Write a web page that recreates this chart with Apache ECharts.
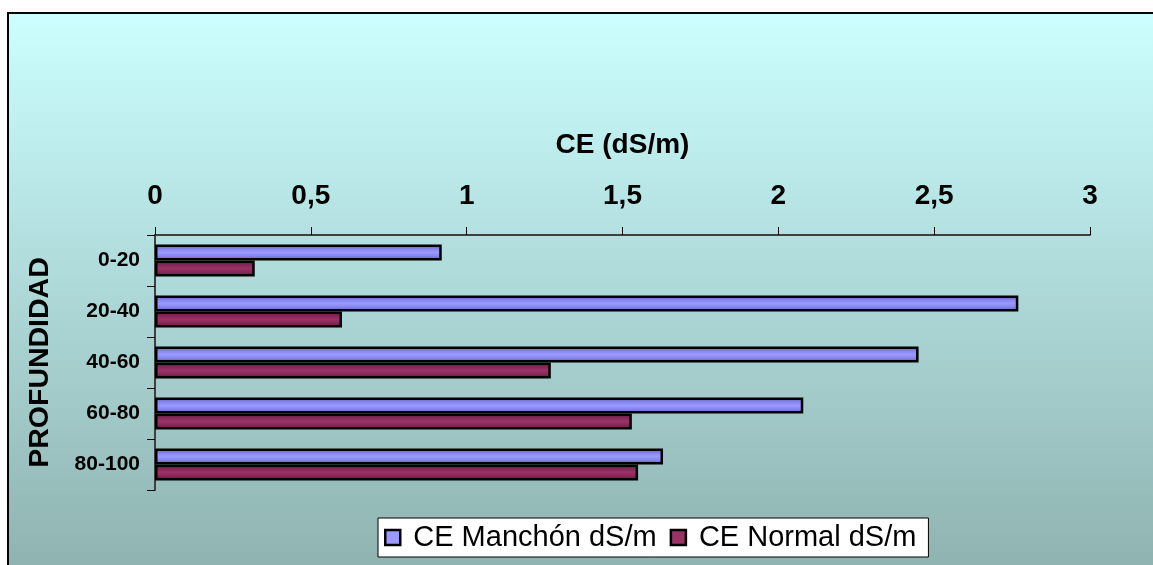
<!DOCTYPE html>
<html>
<head>
<meta charset="utf-8">
<script src="https://cdn.jsdelivr.net/npm/echarts@6/dist/echarts.min.js"></script>
<style>
html,body{margin:0;padding:0;background:#fff;}
#c{width:1153px;height:565px;}
</style>
</head>
<body>
<div id="c"></div>
<script>
const categories = ['0-20', '20-40', '40-60', '60-80', '80-100'];
const manchon = [0.92, 2.77, 2.45, 2.08, 1.63];
const normal = [0.32, 0.60, 1.27, 1.53, 1.55];
const seriesNames = ['CE Manchón dS/m', 'CE Normal dS/m'];
const xTicks = [0, 0.5, 1, 1.5, 2, 2.5, 3];

const chart = echarts.init(document.getElementById('c'), null, {renderer: 'canvas'});
const G = echarts.graphic.LinearGradient;
const blueGrad = new G(0, 0, 0, 1, [
  {offset: 0, color: '#5c5cb8'}, {offset: 0.3, color: '#8888ee'},
  {offset: 0.5, color: '#9999ff'}, {offset: 0.7, color: '#8888ee'}, {offset: 1, color: '#5c5cb8'}]);
const redGrad = new G(0, 0, 0, 1, [
  {offset: 0, color: '#5e1a3d'}, {offset: 0.3, color: '#88295a'},
  {offset: 0.5, color: '#993366'}, {offset: 0.7, color: '#88295a'}, {offset: 1, color: '#5e1a3d'}]);
const font = 'Liberation Sans, Arial, sans-serif';

chart.setOption({
  animation: false,
  graphic: [{
    type: 'rect', z: -10, silent: true,
    shape: {x: 8, y: 13, width: 1200, height: 600},
    style: {
      fill: new G(0, 0, 0, 1, [{offset: 0, color: '#ccffff'}, {offset: 0.92, color: '#8fb3b1'}, {offset: 1, color: '#8ab0ae'}]),
      stroke: '#000', lineWidth: 2
    }
  }],
  grid: {left: 155, right: 63, top: 235, bottom: 75, containLabel: false},
  legend: {
    left: 378, top: 518,
    backgroundColor: '#fff', borderColor: '#000', borderWidth: 1,
    padding: [5, 12, 5, 6], itemGap: 13, itemWidth: 15, itemHeight: 15,
    icon: 'rect',
    textStyle: {fontFamily: font, fontSize: 29, color: '#000', padding: [0, 0, 0, 8]},
    data: [
      {name: seriesNames[0], itemStyle: {color: '#9999ff', borderColor: '#000', borderWidth: 2.5}},
      {name: seriesNames[1], itemStyle: {color: '#993366', borderColor: '#000', borderWidth: 2.5}}
    ]
  },
  xAxis: {
    type: 'value', position: 'top', min: 0, max: 3, interval: 0.5,
    name: 'CE (dS/m)', nameLocation: 'middle', nameGap: 76,
    nameTextStyle: {fontFamily: font, fontSize: 28, fontWeight: 'bold', color: '#000'},
    axisLine: {show: true, lineStyle: {color: '#404040', width: 2}},
    axisTick: {show: true, length: 8, lineStyle: {color: '#000', width: 1}},
    splitLine: {show: false},
    axisLabel: {
      fontFamily: font, fontSize: 28, fontWeight: 'bold', color: '#000', margin: 25,
      formatter: v => String(v).replace('.', ',')
    }
  },
  yAxis: {
    type: 'category', data: categories, inverse: true,
    name: 'PROFUNDIDAD', nameLocation: 'middle', nameGap: 100, nameRotate: 90,
    nameTextStyle: {fontFamily: font, fontSize: 28.5, fontWeight: 'bold', color: '#000'},
    axisLine: {show: true, lineStyle: {color: '#404040', width: 2}},
    axisTick: {show: true, length: 8, lineStyle: {color: '#000', width: 1}},
    axisLabel: {fontFamily: font, fontSize: 21, fontWeight: 'bold', color: '#000', margin: 15}
  },
  series: [
    {name: seriesNames[0], type: 'bar', data: manchon, barWidth: 16, barGap: '0%',
     itemStyle: {color: blueGrad, borderColor: '#000', borderWidth: 2.5}},
    {name: seriesNames[1], type: 'bar', data: normal, barWidth: 16, barGap: '0%',
     itemStyle: {color: redGrad, borderColor: '#000', borderWidth: 2.5}}
  ]
});
</script>
</body>
</html>
